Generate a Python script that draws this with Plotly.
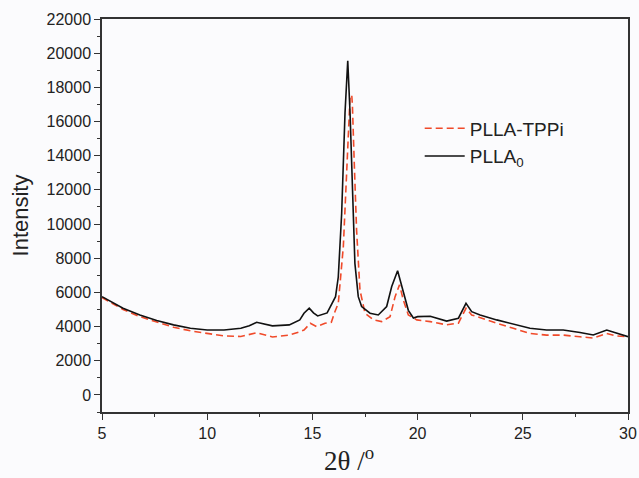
import plotly.graph_objects as go

# PLLA0 (black, solid)
x_plla0 = [5.0, 5.5, 6.0, 6.8, 7.6, 8.4, 9.2, 10.0, 10.8, 11.6, 12.0, 12.35, 12.7, 13.1, 13.9,
           14.4, 14.6, 14.85, 15.05, 15.25, 15.7, 16.0, 16.1, 16.23, 16.39, 16.55, 16.68, 16.79,
           16.91, 17.02, 17.18, 17.34, 17.74, 18.13, 18.53, 18.77, 19.05, 19.32, 19.56, 19.8,
           20.0, 20.6, 21.38, 21.94, 22.3, 22.57, 22.97, 23.76, 24.55, 25.34, 26.13, 26.92,
           27.72, 28.35, 28.99, 29.46, 30.0]
y_plla0 = [5750, 5400, 5070, 4680, 4350, 4100, 3900, 3800, 3800, 3900, 4050, 4250, 4150, 4040, 4100,
           4390, 4780, 5080, 4800, 4620, 4800, 5500, 5750, 6900, 10600, 16500, 19560, 16500,
           11600, 7700, 5750, 5170, 4780, 4680, 5170, 6340, 7270, 6000, 4950, 4500,
           4580, 4600, 4320, 4490, 5360, 4870, 4680, 4390, 4150, 3900, 3800, 3800,
           3650, 3510, 3800, 3600, 3410]

# PLLA-TPPi (red, dashed)
x_tppi = [5.0, 5.5, 6.0, 6.8, 7.6, 8.4, 9.2, 10.0, 10.8, 11.6, 12.35, 13.1, 13.9, 14.4, 14.6,
          14.9, 15.2, 15.6, 15.9, 16.07, 16.23, 16.47, 16.63, 16.79, 16.87, 16.9, 16.99, 17.1,
          17.26, 17.5, 17.9, 18.29, 18.69, 18.93, 19.14, 19.32, 19.56, 19.96, 20.6, 21.38,
          21.94, 22.3, 22.57, 23.0, 23.76, 24.55, 25.34, 26.13, 26.92, 27.72, 28.35, 28.99,
          29.46, 30.0]
y_tppi = [5700, 5330, 5000, 4580, 4250, 3960, 3750, 3610, 3450, 3420, 3640, 3390, 3500, 3700, 3800,
          4190, 4000, 4190, 4250, 4870, 5360, 8680, 13560, 17450, 17550, 17000, 13560, 9650,
          6140, 4780, 4390, 4290, 4580, 5750, 6440, 5560, 4680, 4390, 4290, 4100,
          4200, 5070, 4680, 4490, 4200, 3900, 3600, 3500, 3500, 3400, 3330, 3600,
          3450, 3400]

x_ticks = [5, 10, 15, 20, 25, 30]
y_ticks = list(range(0, 22001, 2000))
y_ticktext = [str(v) for v in y_ticks]

fig = go.Figure()
fig.add_trace(go.Scatter(x=x_tppi, y=y_tppi, mode="lines", name="PLLA-TPPi",
                         line=dict(color="#f04a2a", width=1.6, dash="7px,4px")))
fig.add_trace(go.Scatter(x=x_plla0, y=y_plla0, mode="lines", name="PLLA<sub>0</sub>",
                         line=dict(color="#111111", width=1.6)))

axis_col = "#333333"
fig.update_layout(
    width=639, height=478,
    margin=dict(l=102, r=11, t=19, b=66, autoexpand=False),
    paper_bgcolor="#fbfbfd", plot_bgcolor="#fbfbfd",
    font=dict(family="Liberation Sans, Arial, sans-serif", color="#222222"),
    showlegend=True,
    legend=dict(x=0.604, y=0.77, xanchor="left", yanchor="top",
                bgcolor="rgba(0,0,0,0)", font=dict(size=19, color="#222222"),
                itemwidth=40, tracegroupgap=0),
    xaxis=dict(range=[5, 30], tickvals=x_ticks, ticks="outside", ticklen=6, tickwidth=1.3,
               tickcolor=axis_col, showline=True, linecolor=axis_col, linewidth=1.5,
               mirror=True, showgrid=False, zeroline=False, automargin=False,
               tickfont=dict(size=16),
               minor=dict(tickvals=[7.5, 12.5, 17.5, 22.5, 27.5], ticks="outside",
                          ticklen=3, tickwidth=1.3, tickcolor=axis_col)),
    yaxis=dict(range=[-1000, 22000], tickvals=y_ticks, ticktext=y_ticktext,
               ticks="outside", ticklen=6, tickwidth=1.3,
               tickcolor=axis_col, showline=True, linecolor=axis_col, linewidth=1.5,
               mirror=True, showgrid=False, zeroline=False, automargin=False,
               tickfont=dict(size=16),
               title=dict(text="Intensity", font=dict(size=22, color="#222222"), standoff=12),
               minor=dict(tickvals=list(range(-1000, 22000, 2000)), ticks="outside",
                          ticklen=3, tickwidth=1.3, tickcolor=axis_col)),
)

fig.add_annotation(text="2θ /<sup>o</sup>", xref="paper", yref="paper",
                   x=0.47, y=-0.072, xanchor="center", yanchor="top", showarrow=False,
                   font=dict(family="Liberation Serif, Times New Roman, serif", size=27,
                             color="#222222"))

fig.write_html("out.html", config={"displayModeBar": False},
               post_script="document.body.style.margin='0';document.body.style.overflow='hidden';")
